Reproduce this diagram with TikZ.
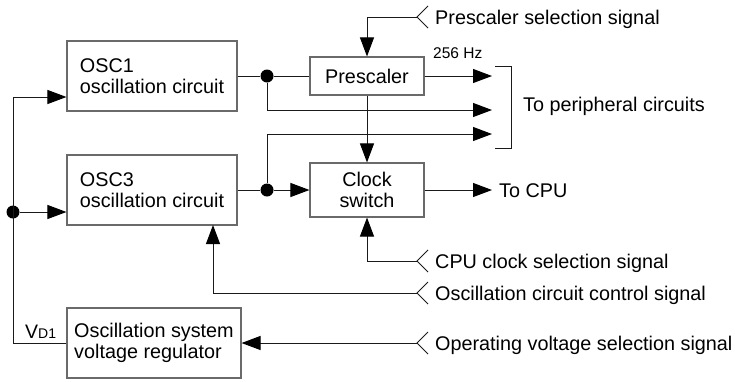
\documentclass[tikz,border=0pt]{standalone}
\usepackage{fontspec}
\setmainfont{Liberation Sans}
\usetikzlibrary{arrows.meta}
\definecolor{linegray}{HTML}{1A1A1A}
\definecolor{boxgray}{HTML}{6A6A6A}
\begin{document}
\begin{tikzpicture}[x=1pt,y=-1pt,
  blk/.style={draw=boxgray, line width=1.1pt, align=left, inner sep=0pt,
    font=\fontsize{19.8}{21.5}\selectfont},
  ln/.style={draw=linegray, line width=1pt},
  arr/.style={ln, -{Triangle[length=19pt,width=14pt,fill=black,color=black]}},
  txt/.style={font=\fontsize{19.8}{21.5}\selectfont, inner sep=0pt},
  dot/.style={circle, fill=black, inner sep=0pt, minimum size=13pt},
  chev/.style={ln}]
\useasboundingbox (0,0) rectangle (735,381);

% blocks
\node[blk, minimum width=170pt, minimum height=70pt] (osc1) at (152,76) {OSC1\\oscillation circuit};
\node[blk, minimum width=170pt, minimum height=70pt] (osc3) at (152,190) {OSC3\\oscillation circuit};
\node[blk, minimum width=114pt, minimum height=38pt, align=center] (pre) at (367,76) {Prescaler};
\node[blk, minimum width=114pt, minimum height=54pt, align=center] (cs) at (367,190) {Clock\\switch};
\node[blk, minimum width=174pt, minimum height=70pt] (reg) at (154,343) {Oscillation system\\voltage regulator};

% junction dots
\node[dot] (d1) at (267,76) {};
\node[dot] (d2) at (267,190) {};
\node[dot] (d3) at (13,212) {};

% coordinates
\coordinate (ltop) at (13,97);
\coordinate (lbot) at (13,343);
\coordinate (p1) at (492,76);
\coordinate (p2) at (492,110);
\coordinate (p3) at (492,134);
\coordinate (cpu) at (492,190);
\coordinate (s1) at (417,17);
\coordinate (s2) at (417,261);
\coordinate (s3) at (417,293);
\coordinate (s4) at (417,343);
\coordinate (c3) at (213,225);
\coordinate (b1) at (495,66);
\coordinate (b2) at (511,148);
\coordinate (b3) at (495,148);

% left feedback / supply
\draw[ln] (reg.west) -- (lbot) -- (ltop);
\draw[arr] (ltop) -- (ltop -| osc1.west);
\draw[arr] (d3) -- (d3 -| osc3.west);

% OSC1 path
\draw[ln] (osc1.east |- d1) -- (d1) -- (pre.west);
\draw[arr] (d1) |- (p2);
\draw[arr] (pre.east) -- (p1);

% OSC3 path
\draw[ln] (osc3.east |- d2) -- (d2);
\draw[arr] (d2) -- (d2 -| cs.west);
\draw[arr] (d2) |- (p3);

% prescaler to clock switch
\draw[arr] (pre.south) -- (cs.north);
\draw[arr] (cs.east) -- (cpu);

% signals
\draw[arr] (s1) -| (pre.north);
\draw[arr] (s2) -| (cs.south);
\draw[arr] (s3) -| (c3);
\draw[arr] (s4) -- (s4 -| reg.east);

\foreach \s in {s1,s2,s3,s4}
  \draw[chev] ([shift={(11,-11)}]\s) -- (\s) -- ([shift={(11,11)}]\s);

% bracket
\draw[ln] (b1) -| (b2) -- (b3);

% labels
\node[txt, anchor=base west] (t1) at (435,24) {Prescaler selection signal};
\node[inner sep=0pt, anchor=base west, font=\fontsize{15.5}{17}\selectfont] (hz) at (433,58) {256 Hz};
\node[txt, anchor=base west] (tp) at (523,111) {To peripheral circuits};
\node[txt, anchor=base west] (tc) at (499,197) {To CPU};
\node[txt, anchor=base west] (t2) at (435,268) {CPU clock selection signal};
\node[txt, anchor=base west] (t3) at (435,300) {Oscillation circuit control signal};
\node[txt, anchor=base west] (t4) at (435,350) {Operating voltage selection signal};
\node[inner sep=0pt, anchor=base west] (vd) at (25,338) {\fontsize{19.5}{20}\selectfont V\fontsize{14}{15}\selectfont D1};
\end{tikzpicture}
\end{document}
